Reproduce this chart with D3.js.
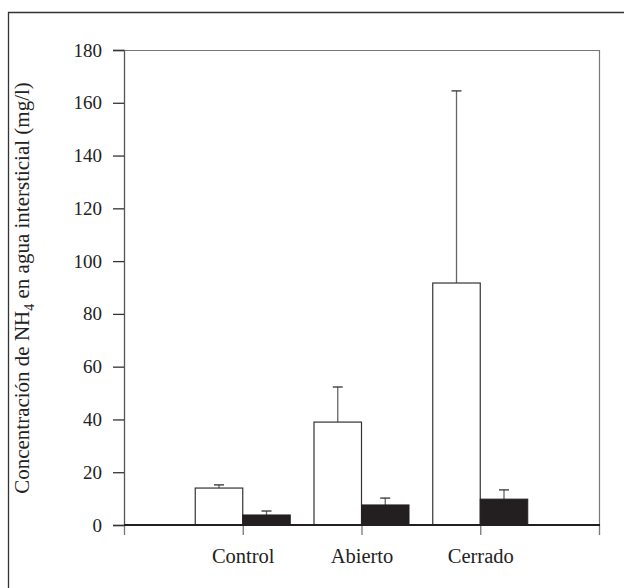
<!DOCTYPE html>
<html><head><meta charset="utf-8">
<script src="https://cdn.jsdelivr.net/npm/d3@7"></script>
<style>body{margin:0;background:#fff;} svg{display:block;}</style>
</head><body>
<svg id="c" width="624" height="588"></svg>
<script>
const categories = ["Control", "Abierto", "Cerrado"];
const openValues = [14.0, 39.0, 91.7];
const openErrors = [15.2, 52.3, 164.5];
const filledValues = [3.8, 7.6, 9.8];
const filledErrors = [5.3, 10.2, 13.3];
const yTicks = [0, 20, 40, 60, 80, 100, 120, 140, 160, 180];

(function () {
const svg = d3.select("#c");
const font = "'Liberation Serif','Times New Roman',serif";
const pL = 124, pR = 599, pT = 50, pB = 525;

svg.append("path").attr("d", "M8.5,588V12.5H624").attr("fill","none").attr("stroke","#333").attr("stroke-width",1.3);

const x = d3.scaleLinear().domain([0, 4]).range([pL, pR]);
const y = d3.scaleLinear().domain([0, 180]).range([pB, pT]);
const barW = x(1) - x(0.6);

svg.append("path").attr("d", `M${pL},${pT}.5H${pR}.5V${pB}`).attr("fill","none").attr("stroke","#777").attr("stroke-width",1.2);

const g = svg.append("g");
function errs(vals, errsArr, off) {
  vals.forEach((v, i) => {
    const cx = x(i + 1) + off;
    g.append("line").attr("x1", cx).attr("x2", cx).attr("y1", y(v)).attr("y2", y(errsArr[i])).attr("stroke", "#666").attr("stroke-width", 1.3);
    g.append("line").attr("x1", cx - 5).attr("x2", cx + 5).attr("y1", y(errsArr[i])).attr("y2", y(errsArr[i])).attr("stroke", "#333").attr("stroke-width", 1.3);
  });
}
errs(openValues, openErrors, -barW / 2);
errs(filledValues, filledErrors, barW / 2);

g.selectAll("rect.open").data(openValues).join("rect").attr("class","open")
  .attr("x", (d, i) => x(i + 1) - barW).attr("width", barW)
  .attr("y", d => y(d)).attr("height", d => y(0) - y(d))
  .attr("fill", "#fff").attr("stroke", "#333").attr("stroke-width", 1.2);
g.selectAll("rect.filled").data(filledValues).join("rect").attr("class","filled")
  .attr("x", (d, i) => x(i + 1)).attr("width", barW)
  .attr("y", d => y(d)).attr("height", d => y(0) - y(d))
  .attr("fill", "#231f20").attr("stroke", "#231f20").attr("stroke-width", 1);

const ya = svg.append("g").attr("transform", `translate(${pL},0)`)
  .call(d3.axisLeft(y).tickValues(yTicks).tickSize(11).tickPadding(11).tickFormat(d3.format("d")));
ya.select(".domain").attr("stroke", "#555").attr("stroke-width", 1.3);
ya.selectAll(".tick line").attr("stroke", "#333").attr("stroke-width", 1.3);
ya.selectAll("text").attr("font-family", font).attr("font-size", 19).attr("fill", "#222");

const xa = svg.append("g").attr("transform", `translate(0,${pB})`)
  .call(d3.axisBottom(x).tickValues([0, 1, 2, 3, 4]).tickSize(10).tickPadding(13)
    .tickFormat(d => categories[d - 1] || ""));
xa.select(".domain").remove();
xa.selectAll(".tick line").attr("stroke", "#777").attr("stroke-width", 1.3);
xa.selectAll("text").attr("font-family", font).attr("font-size", 20.5).attr("fill", "#222");
svg.append("line").attr("x1", pL).attr("x2", pR + 1).attr("y1", pB).attr("y2", pB)
  .attr("stroke", "#231f20").attr("stroke-width", 2.2);

const lab = svg.append("text").attr("transform", "translate(29,288) rotate(-90)")
  .attr("text-anchor", "middle").attr("font-family", font).attr("font-size", 21).attr("fill", "#222");
lab.append("tspan").text("Concentración de NH");
lab.append("tspan").attr("font-size", 14).attr("dy", 5).text("4");
lab.append("tspan").attr("dy", -5).text(" en agua intersticial (mg/l)");
})();
</script>
</body></html>
